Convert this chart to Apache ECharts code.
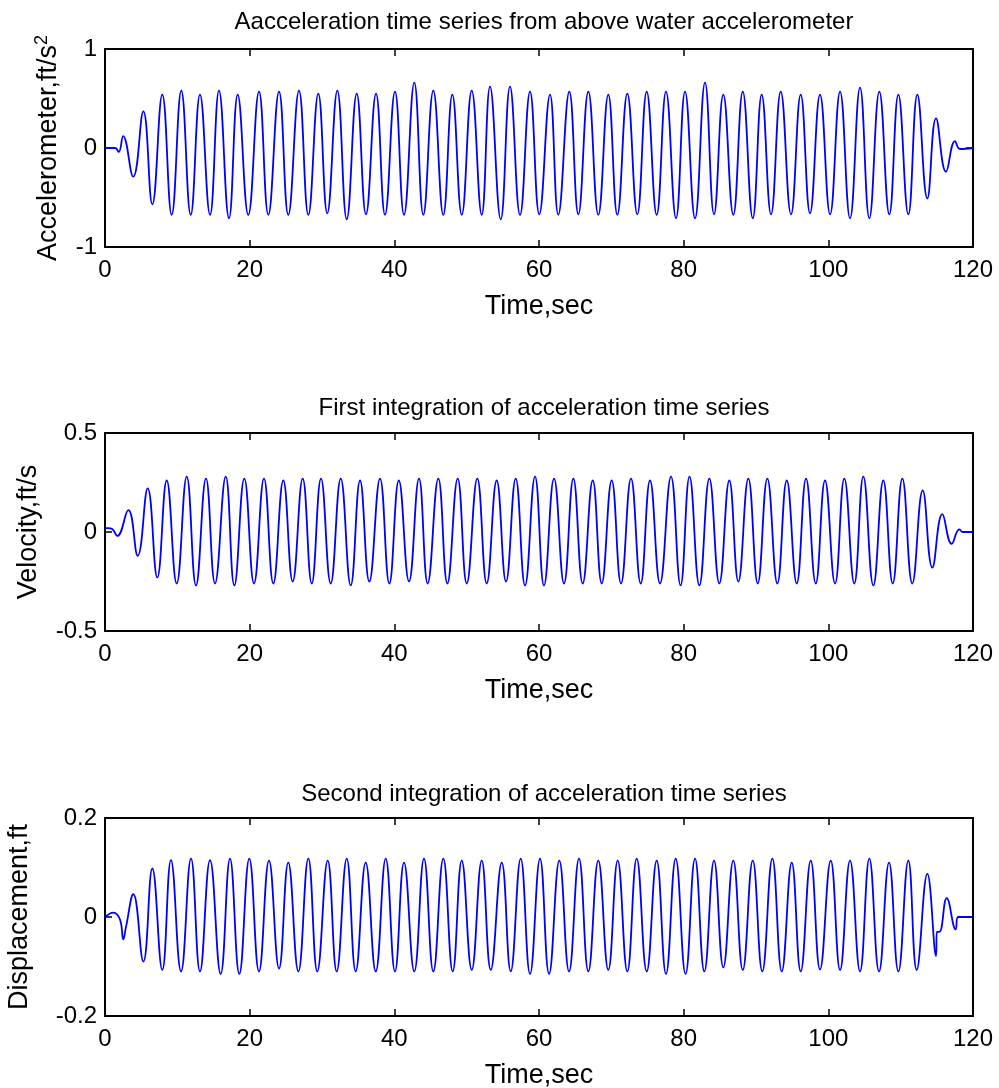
<!DOCTYPE html>
<html>
<head>
<meta charset="utf-8">
<script src="https://cdn.jsdelivr.net/npm/echarts@6/dist/echarts.min.js"></script>
<style>html,body{margin:0;padding:0;background:#fff;}#c{width:999px;height:1088px;}</style>
</head>
<body>
<div id="c"></div>
<script>
// ---- data: turning points (time in sec) ----
var xTicks = [0, 20, 40, 60, 80, 100, 120];

var accTime = [
  0, 1.4, 1.9, 2.5, 3.9, 5.30, 6.54, 7.92, 9.22, 10.55,
  11.85, 13.13, 14.52, 15.76, 17.14, 18.35, 19.81, 21.29, 22.58, 24.06,
  25.34, 26.82, 28.11, 29.49, 30.73, 32.12, 33.42, 34.80, 36.08, 37.47,
  38.71, 40.09, 41.34, 42.76, 44.01, 45.39, 46.77, 48.02, 49.32, 50.70,
  52.08, 53.23, 54.71, 55.99, 57.38, 58.76, 60.04, 61.52, 62.67, 64.19,
  65.44, 66.82, 68.20, 69.58, 70.83, 72.21, 73.59, 74.89, 76.27, 77.56,
  78.94, 80.19, 81.57, 82.95, 84.20, 85.48, 86.86, 88.17, 89.55, 90.79,
  92.08, 93.42, 94.84, 96.18, 97.47, 98.85, 100.24, 101.62, 103.0, 104.38,
  105.67, 107.05, 108.43, 109.68, 111.06, 112.31, 113.69, 114.89, 116.27, 117.52,
  118.21, 120
];
var accValue = [
  0, 0, -0.04, 0.12, -0.29, 0.37, -0.57, 0.54, -0.675, 0.58,
  -0.675, 0.54, -0.675, 0.58, -0.71, 0.54, -0.675, 0.57, -0.675, 0.57,
  -0.675, 0.58, -0.675, 0.55, -0.66, 0.58, -0.72, 0.55, -0.67, 0.55,
  -0.675, 0.57, -0.675, 0.66, -0.675, 0.58, -0.675, 0.54, -0.675, 0.58,
  -0.675, 0.62, -0.72, 0.62, -0.675, 0.57, -0.67, 0.54, -0.675, 0.57,
  -0.67, 0.57, -0.675, 0.54, -0.675, 0.55, -0.67, 0.57, -0.675, 0.57,
  -0.71, 0.57, -0.71, 0.66, -0.67, 0.54, -0.675, 0.57, -0.71, 0.54,
  -0.67, 0.57, -0.67, 0.54, -0.66, 0.54, -0.67, 0.57, -0.71, 0.61,
  -0.71, 0.57, -0.67, 0.54, -0.67, 0.54, -0.51, 0.30, -0.24, 0.07,
  -0.01, 0
];

var velTime = [
  0, 0.4, 1.0, 1.70, 3.22, 4.52, 5.90, 7.23, 8.53, 9.91,
  11.30, 12.58, 13.96, 15.21, 16.69, 17.88, 19.26, 20.60, 21.98, 23.27,
  24.65, 25.95, 27.33, 28.58, 29.86, 31.20, 32.59, 33.97, 35.26, 36.54,
  38.02, 39.31, 40.62, 42.03, 43.41, 44.61, 46.08, 47.33, 48.76, 50.01,
  51.47, 52.77, 54.15, 55.44, 56.78, 58.07, 59.45, 60.69, 62.08, 63.46,
  64.75, 66.04, 67.43, 68.67, 70.05, 71.34, 72.72, 74.06, 75.35, 76.73,
  78.25, 79.57, 80.81, 82.17, 83.55, 84.93, 86.31, 87.56, 88.94, 90.24,
  91.57, 92.95, 94.25, 95.63, 96.92, 98.26, 99.54, 100.93, 102.21, 103.59,
  104.84, 106.22, 107.60, 108.90, 110.23, 111.61, 113.05, 114.38, 115.76, 117.06,
  118.11, 118.6, 120
];
var velValue = [
  0.02, 0.02, 0.015, -0.02, 0.11, -0.12, 0.22, -0.23, 0.26, -0.26,
  0.28, -0.27, 0.27, -0.26, 0.28, -0.27, 0.27, -0.26, 0.27, -0.26,
  0.26, -0.25, 0.27, -0.26, 0.27, -0.26, 0.27, -0.27, 0.26, -0.25,
  0.27, -0.26, 0.26, -0.25, 0.27, -0.26, 0.27, -0.26, 0.27, -0.26,
  0.27, -0.26, 0.26, -0.25, 0.27, -0.27, 0.28, -0.27, 0.27, -0.26,
  0.27, -0.26, 0.26, -0.26, 0.26, -0.26, 0.27, -0.26, 0.26, -0.26,
  0.28, -0.27, 0.28, -0.27, 0.27, -0.26, 0.26, -0.25, 0.27, -0.26,
  0.27, -0.26, 0.26, -0.26, 0.27, -0.26, 0.26, -0.26, 0.27, -0.26,
  0.28, -0.27, 0.26, -0.26, 0.27, -0.26, 0.21, -0.18, 0.09, -0.06,
  0.013, 0, 0
];

var dispTime = [
  0, 1.15, 2.07, 2.53, 2.90, 3.91, 5.30, 6.54, 7.92, 9.12,
  10.51, 11.89, 13.13, 14.52, 15.99, 17.28, 18.57, 19.95, 21.29, 22.67,
  24.06, 25.34, 26.73, 28.11, 29.35, 30.79, 32.03, 33.42, 34.66, 36.04,
  37.43, 38.81, 40.09, 41.34, 42.76, 44.10, 45.39, 46.77, 48.07, 49.32,
  50.70, 52.08, 53.33, 54.85, 56.09, 57.47, 58.76, 60.14, 61.39, 62.81,
  64.15, 65.53, 66.82, 68.20, 69.58, 70.88, 72.21, 73.51, 74.89, 76.27,
  77.56, 78.90, 80.26, 81.57, 82.86, 84.20, 85.48, 86.86, 88.17, 89.55,
  90.87, 92.26, 93.56, 94.94, 96.18, 97.57, 98.85, 100.33, 101.62, 103.0,
  104.38, 105.67, 107.01, 108.39, 109.68, 111.06, 112.22, 113.69, 114.89, 115.0,
  115.35, 116.37, 117.61, 117.93, 120
];
var dispValue = [
  0, 0.009, -0.005, -0.045, -0.02, 0.046, -0.09, 0.098, -0.107, 0.115,
  -0.11, 0.118, -0.11, 0.115, -0.115, 0.118, -0.115, 0.118, -0.11, 0.114,
  -0.104, 0.11, -0.11, 0.118, -0.11, 0.114, -0.11, 0.118, -0.11, 0.11,
  -0.11, 0.118, -0.11, 0.11, -0.11, 0.118, -0.11, 0.118, -0.11, 0.114,
  -0.107, 0.114, -0.107, 0.11, -0.11, 0.118, -0.115, 0.118, -0.115, 0.114,
  -0.11, 0.118, -0.11, 0.114, -0.107, 0.114, -0.11, 0.118, -0.11, 0.114,
  -0.115, 0.118, -0.115, 0.118, -0.11, 0.114, -0.102, 0.114, -0.107, 0.114,
  -0.11, 0.118, -0.11, 0.11, -0.11, 0.114, -0.106, 0.114, -0.107, 0.114,
  -0.11, 0.118, -0.11, 0.11, -0.11, 0.114, -0.107, 0.087, -0.079, -0.03,
  -0.03, 0.038, -0.025, 0, 0
];

var titles = [
  'Aacceleration time series from above water accelerometer',
  'First integration of acceleration time series',
  'Second integration of acceleration time series'
];
var yNames = ['{a|Accelerometer,ft/s}{s|2}', 'Velocity,ft/s', 'Displacement,ft'];
var yRanges = [[-1, 1, 1], [-0.5, 0.5, 0.5], [-0.2, 0.2, 0.2]];
var xName = 'Time,sec';

// ---- chart ----
function zip(t, v) { var out = []; for (var i = 0; i < t.length; i++) out.push([t[i], v[i]]); return out; }
var seriesData = [zip(accTime, accValue), zip(velTime, velValue), zip(dispTime, dispValue)];

var FONT = 'Liberation Sans, Arial, sans-serif';
var gridTops = [49, 433, 818];
var gridH = 198;
var nameGaps = [40, 63, 72];
var titleTops = [5, 391, 777];

var option = {
  animation: false,
  backgroundColor: '#fff',
  textStyle: { fontFamily: FONT, color: '#000' },
  title: [], grid: [], xAxis: [], yAxis: [], series: []
};
function axLine() { return { show: true, onZero: false, lineStyle: { color: '#000', width: 2 } }; }
function axTick() { return { show: true, inside: true, length: 7, lineStyle: { color: '#000', width: 1.5 } }; }
for (var k = 0; k < 3; k++) {
  option.title.push({ text: titles[k], left: 539, top: titleTops[k], textAlign: 'center',
    textStyle: { fontFamily: FONT, fontSize: 24, fontWeight: 'normal', color: '#000' } });
  option.grid.push({ left: 105, right: 26, top: gridTops[k], height: gridH, containLabel: false, outerBoundsMode: 'none' });
  option.xAxis.push({ type: 'value', gridIndex: k, position: 'bottom', min: 0, max: 120, interval: 20,
    axisLine: axLine(), axisTick: axTick(),
    axisLabel: { margin: 11, fontSize: 24, fontFamily: FONT, color: '#000' },
    splitLine: { show: false },
    name: xName, nameLocation: 'middle', nameGap: 46,
    nameTextStyle: { fontSize: 27, fontFamily: FONT, color: '#000' } });
  option.xAxis.push({ type: 'value', gridIndex: k, position: 'top', min: 0, max: 120, interval: 20,
    axisLine: axLine(), axisTick: axTick(),
    axisLabel: { show: false }, splitLine: { show: false } });
  var r = yRanges[k];
  option.yAxis.push({ type: 'value', gridIndex: k, position: 'left', min: r[0], max: r[1], interval: r[2],
    axisLine: axLine(), axisTick: axTick(),
    axisLabel: { margin: 8, fontSize: 24, fontFamily: FONT, color: '#000' },
    splitLine: { show: false },
    name: yNames[k], nameLocation: 'middle', nameRotate: 90, nameGap: nameGaps[k],
    nameTextStyle: { fontSize: 27, fontFamily: FONT, color: '#000',
      rich: { a: { fontSize: 27, fontFamily: FONT, color: '#000', lineHeight: 32 },
              s: { fontSize: 18, fontFamily: FONT, color: '#000', verticalAlign: 'top', lineHeight: 32 } } } });
  option.yAxis.push({ type: 'value', gridIndex: k, position: 'right', min: r[0], max: r[1], interval: r[2],
    axisLine: axLine(), axisTick: axTick(),
    axisLabel: { show: false }, splitLine: { show: false } });
  option.series.push({ type: 'line', xAxisIndex: 2 * k, yAxisIndex: 2 * k, data: seriesData[k],
    showSymbol: false, symbol: 'none', lineStyle: { color: '#0000ff', width: 1.8 }, smooth: 0.45 });
}
var chart = echarts.init(document.getElementById('c'), null, { renderer: 'canvas' });
chart.setOption(option);
</script>
</body>
</html>
